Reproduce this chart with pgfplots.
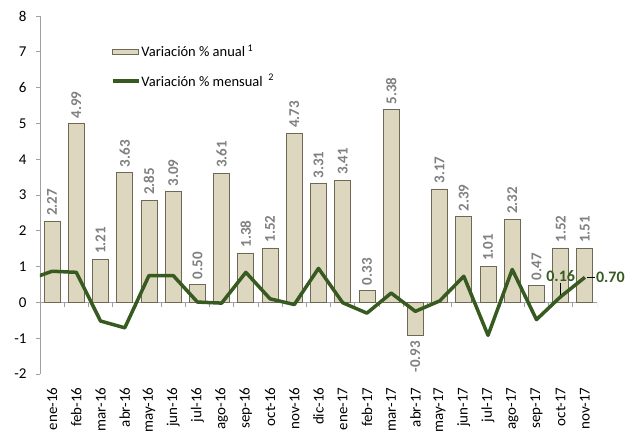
\documentclass[border=0pt]{standalone}
\usepackage{pgfplots}
\pgfplotsset{compat=1.18}
\usepackage{pgfplotstable}
\usepackage{fontspec}
\setmainfont{Carlito}
\definecolor{barfill}{RGB}{222,215,192}
\definecolor{baredge}{RGB}{110,104,84}
\definecolor{lgreen}{RGB}{55,90,32}
\definecolor{lblgray}{RGB}{128,128,128}
\definecolor{axgray}{RGB}{160,160,160}

\pgfplotstableread{
x y lab
0 2.27 2.27
1 4.99 4.99
2 1.21 1.21
3 3.63 3.63
4 2.85 2.85
5 3.09 3.09
6 0.50 0.50
7 3.61 3.61
8 1.38 1.38
9 1.52 1.52
10 4.73 4.73
11 3.31 3.31
12 3.41 3.41
13 0.33 0.33
14 5.38 5.38
16 3.17 3.17
17 2.39 2.39
18 1.01 1.01
19 2.32 2.32
20 0.47 0.47
21 1.52 1.52
22 1.51 1.51
}\anual

\pgfplotstableread{
x y lab
15 -0.93 -0.93
}\anualneg

\pgfplotstableread{
x y
-1 0.63
0 0.87
1 0.84
2 -0.52
3 -0.71
4 0.75
5 0.75
6 0.01
7 -0.02
8 0.84
9 0.10
10 -0.06
11 0.95
12 -0.01
13 -0.30
14 0.26
15 -0.25
16 0.04
17 0.73
18 -0.92
19 0.92
20 -0.48
21 0.16
22 0.70
}\mensual

\begin{document}
\begin{tikzpicture}
\begin{axis}[
  name=ax,
  scale only axis,
  width=557bp, height=358bp,
  xmin=-0.5, xmax=22.5,
  ymin=-2, ymax=8,
  axis y line*=left,
  axis x line*=bottom,
  x axis line style={draw=none},
  y axis line style={draw=axgray, line width=0.8bp},
  ytick={-2,-1,0,1,2,3,4,5,6,7,8},
  ytick style={draw=axgray, line width=0.8bp},
  tick align=outside,
  major tick length=4bp,
  xtick={0,...,22},
  xtick style={draw=none},
  xticklabels={ene-16,feb-16,mar-16,abr-16,may-16,jun-16,jul-16,ago-16,sep-16,oct-16,nov-16,dic-16,ene-17,feb-17,mar-17,abr-17,may-17,jun-17,jul-17,ago-17,sep-17,oct-17,nov-17},
  xticklabel style={rotate=90, anchor=east, font=\fontsize{15bp}{18bp}\selectfont, xshift=-6bp},
  yticklabel style={font=\fontsize{15bp}{18bp}\selectfont, xshift=-6bp},
  /pgf/number format/assume math mode=true,
  legend style={draw=none, fill=none, at={(0.127,0.925)}, anchor=north west,
    font=\fontsize{14.5bp}{17bp}\selectfont, row sep=12bp, inner sep=0pt,
    nodes={inner xsep=1bp}},
  legend cell align=left,
  clip mode=individual,
]
% zero line and boundary ticks
\addplot[draw=axgray, line width=0.8bp, forget plot] coordinates {(-0.5,0) (22.5,0)};
\addplot[ycomb, draw=axgray, line width=0.8bp, mark=none, forget plot] coordinates {
(-0.5,-0.14) (0.5,-0.14) (1.5,-0.14) (2.5,-0.14) (3.5,-0.14) (4.5,-0.14) (5.5,-0.14) (6.5,-0.14)
(7.5,-0.14) (8.5,-0.14) (9.5,-0.14) (10.5,-0.14) (11.5,-0.14) (12.5,-0.14) (13.5,-0.14) (14.5,-0.14)
(15.5,-0.14) (16.5,-0.14) (17.5,-0.14) (18.5,-0.14) (19.5,-0.14) (20.5,-0.14) (21.5,-0.14) (22.5,-0.14)};
% bars
\addplot[ybar, bar width=16bp, bar shift=0pt, fill=barfill, draw=baredge, line width=0.8bp,
  legend image code/.code={\draw[fill=barfill, draw=baredge, line width=0.8bp] (0bp,-2.5bp) rectangle (26bp,2.5bp);},
  point meta=explicit symbolic,
  nodes near coords,
  every node near coord/.append style={rotate=90, anchor=west, inner xsep=5bp,
     text=lblgray, font=\bfseries\fontsize{15bp}{18bp}\selectfont}]
  table[x=x, y=y, meta=lab] {\anual};
\addlegendentry{Variación \% anual\,\textsuperscript{1}}
\addplot[ybar, bar width=16bp, bar shift=0pt, fill=barfill, draw=baredge, line width=0.8bp,
  forget plot,
  point meta=explicit symbolic,
  nodes near coords,
  every node near coord/.append style={rotate=90, anchor=east, inner xsep=5bp,
     text=lblgray, font=\bfseries\fontsize{15bp}{18bp}\selectfont}]
  table[x=x, y=y, meta=lab] {\anualneg};
% monthly line
\addplot[draw=lgreen, line width=3.5bp, mark=none, line join=round,
  legend image code/.code={\draw[lgreen, line width=3.5bp] (0bp,0bp) -- (26bp,0bp);}]
  table[x=x, y=y] {\mensual};
\addlegendentry{Variación \% mensual \,\textsuperscript{2}}
% labels for last points
\draw[black, line width=0.6bp] ([yshift=2bp]axis cs:21,0.16) -- ([yshift=14bp]axis cs:21,0.16);
\node[anchor=south, text=lgreen, font=\bfseries\fontsize{16bp}{19bp}\selectfont, inner sep=1bp]
  at ([yshift=14bp]axis cs:21,0.16) {0.16};
\draw[black, line width=0.6bp] ([xshift=2bp]axis cs:22,0.70) -- ([xshift=10bp]axis cs:22,0.70);
\node[anchor=west, text=lgreen, font=\bfseries\fontsize{16bp}{19bp}\selectfont, inner sep=1bp]
  at ([xshift=10bp]axis cs:22,0.70) {0.70};
\end{axis}
\pgfresetboundingbox
\path ([xshift=-40bp,yshift=-61bp]ax.south west) rectangle ([xshift=33bp,yshift=16bp]ax.north east);
\end{tikzpicture}
\end{document}
